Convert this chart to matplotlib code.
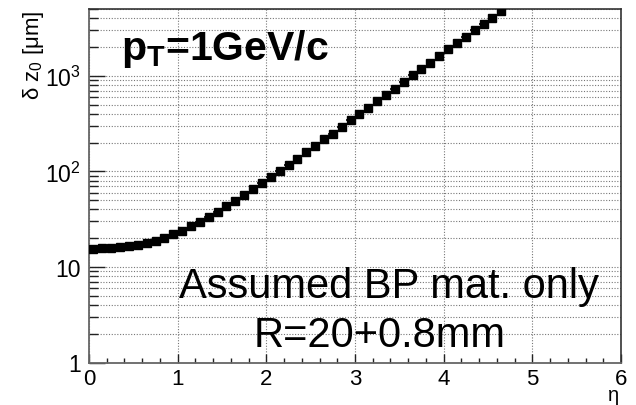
import matplotlib
matplotlib.use('Agg')
import matplotlib.pyplot as plt
from matplotlib.ticker import FixedLocator, NullFormatter, LogLocator

plt.rcParams['font.family'] = ['Liberation Sans', 'DejaVu Sans']
plt.rcParams['mathtext.fontset'] = 'custom'
plt.rcParams['mathtext.rm'] = 'Liberation Sans'
plt.rcParams['mathtext.it'] = 'Liberation Sans:italic'
plt.rcParams['mathtext.bf'] = 'Liberation Sans:bold'

# data: bin centres in eta and resolution delta z0 [um]
eta = [0.05, 0.15, 0.25, 0.35, 0.45, 0.55, 0.65, 0.75, 0.85, 0.95,
       1.05, 1.15, 1.25, 1.35, 1.45, 1.55, 1.65, 1.75, 1.85, 1.95,
       2.05, 2.15, 2.25, 2.35, 2.45, 2.55, 2.65, 2.75, 2.85, 2.95,
       3.05, 3.15, 3.25, 3.35, 3.45, 3.55, 3.65, 3.75, 3.85, 3.95,
       4.05, 4.15, 4.25, 4.35, 4.45, 4.55, 4.65]
dz0 = [15.5, 15.6, 15.7, 16.2, 16.5, 17.0, 17.9, 18.9, 20.3, 22.2,
       24.0, 26.7, 29.4, 33.0, 38.0, 42.9, 48.9, 56.0, 64.7, 76.0,
       87.4, 101, 117, 136, 160, 185, 217, 249, 292, 343,
       396, 463, 543, 628, 732, 868, 1017, 1180, 1375, 1610,
       1892, 2188, 2573, 2993, 3485, 4074, 4775]
eta_err = [0.05] * len(eta)

xticks = [0, 1, 2, 3, 4, 5, 6]
xticklabels = ['0', '1', '2', '3', '4', '5', '6']
yticks = [1, 10, 100, 1000]
yticklabels = ['1', '10', r'10$^{\mathrm{2}}$', r'10$^{\mathrm{3}}$']

W, H = 636, 406
fig = plt.figure(figsize=(W / 100, H / 100), dpi=100)
L, R, T, B = 89, 621, 10, 363.5
ax = fig.add_axes([L / W, 1 - B / H, (R - L) / W, (B - T) / H])
ax.set_yscale('log')
ax.set_xlim(0, 6)
ax.set_ylim(1, 5000)

ax.errorbar(eta, dz0, xerr=eta_err, fmt='s', color='black', ms=5.3,
            elinewidth=1.2, capsize=0, zorder=3)

ax.xaxis.set_major_locator(FixedLocator(xticks))
ax.set_xticklabels(xticklabels)
ax.xaxis.set_minor_locator(FixedLocator([i * 0.2 for i in range(31)]))
ax.yaxis.set_major_locator(FixedLocator(yticks))
ax.set_yticklabels(yticklabels)
ax.yaxis.set_minor_locator(LogLocator(base=10, subs=range(2, 10)))
ax.yaxis.set_minor_formatter(NullFormatter())

ax.set_axisbelow(True)
gkw = dict(color='#777777', linestyle=(0, (1, 1.5)), linewidth=0.8)
ax.grid(True, which='major', axis='x', **gkw)
ax.grid(True, which='both', axis='y', **gkw)

ax.tick_params(axis='both', which='both', direction='in', top=False, right=False,
               colors='#222222', labelcolor='black', labelsize=16.5, width=1)
ax.tick_params(axis='x', which='major', length=6.5, pad=4, labelsize=16)
ax.tick_params(axis='x', which='minor', length=3.6)
ax.tick_params(axis='y', which='major', length=11.5, pad=6)
ax.tick_params(axis='y', which='minor', length=6.5)

for s in ['left', 'bottom']:
    ax.spines[s].set_color('#666666')
    ax.spines[s].set_linewidth(1.3)
for s in ['top', 'right']:
    ax.spines[s].set_color('#333333')
    ax.spines[s].set_linewidth(1.2)

fig.text(34 / W, 1 - 10 / H, r'δ z$_{\mathrm{0}}$ [μm]', rotation=90,
         ha='center', va='top', fontsize=16)
fig.text(614 / W, 1 - 396 / H, 'η', ha='center', va='center', fontsize=14.5)

fig.text(121 / W, 1 - 60 / H, r'p$_{\mathbf{T}}$=1GeV/c', ha='left', va='baseline',
         fontsize=29.5, fontweight='bold')
fig.text(389 / W, 1 - 298 / H, 'Assumed BP mat. only', ha='center', va='baseline',
         fontsize=30)
fig.text(380 / W, 1 - 347 / H, 'R=20+0.8mm', ha='center', va='baseline',
         fontsize=30)

fig.savefig('out.png', dpi=100)
